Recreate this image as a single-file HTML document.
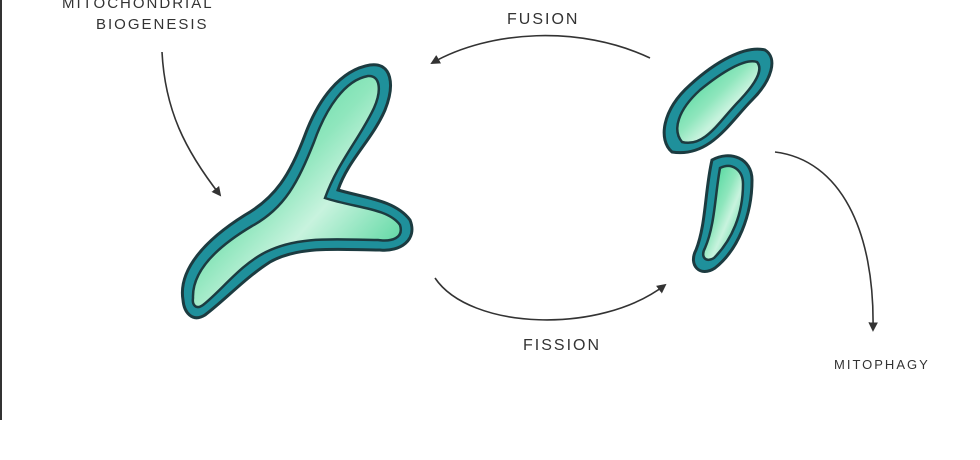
<!DOCTYPE html>
<html><head><style>
html,body{margin:0;padding:0;background:#fff;}
svg{display:block}
text{font-family:"Liberation Sans",sans-serif;fill:#333;letter-spacing:2px}
</style></head><body>
<svg width="980" height="460" viewBox="0 0 980 460" xmlns="http://www.w3.org/2000/svg">
<rect x="0" y="0" width="980" height="460" fill="#fff"/>
<line x1="1" y1="0" x2="1" y2="420" stroke="#333" stroke-width="2"/>
<defs>
<linearGradient id="g" x1="0" y1="0" x2="1" y2="1">
<stop offset="0" stop-color="#2ed08c"/><stop offset="0.45" stop-color="#8fe6bd"/><stop offset="0.6" stop-color="#c8f3de"/><stop offset="1" stop-color="#2acb86"/>
</linearGradient>
<marker id="ah" viewBox="0 0 10 10" refX="8" refY="5" markerWidth="6" markerHeight="6" orient="auto"><path d="M0,0 L10,5 L0,10 z" fill="#333"/></marker>
</defs>
<text x="62" y="8" font-size="15">MITOCHONDRIAL</text>
<text x="96" y="29" font-size="15">BIOGENESIS</text>
<text x="507" y="24" font-size="16">FUSION</text>
<text x="523" y="350" font-size="16">FISSION</text>
<text x="834" y="369" font-size="13">MITOPHAGY</text>
<path d="M162,52 C165,110 185,150 220,195" fill="none" stroke="#333" stroke-width="1.6" marker-end="url(#ah)"/>
<path d="M650,58 C580,25 490,30 432,63" fill="none" stroke="#333" stroke-width="1.6" marker-end="url(#ah)"/>
<path d="M435,278 C470,330 600,335 665,285" fill="none" stroke="#333" stroke-width="1.6" marker-end="url(#ah)"/>
<path d="M775,152 C840,160 875,230 873,330" fill="none" stroke="#333" stroke-width="1.6" marker-end="url(#ah)"/>
<!-- big Y -->
<path d="M183,300 C178,270 205,240 245,215 C275,198 290,175 305,135 C318,100 340,70 370,65 C392,62 395,85 385,110 C372,140 348,160 338,190 C365,198 395,200 410,220 C418,240 400,252 380,250 C340,250 300,245 270,262 C245,278 225,300 205,315 C192,323 184,312 183,300 Z" fill="#1f909b" stroke="#1c3b40" stroke-width="3"/>
<path d="M193,298 C192,272 215,248 252,226 C285,208 298,182 314,142 C326,108 345,80 368,76 C380,75 382,90 374,108 C360,138 338,162 325,198 C355,208 388,208 400,225 C404,238 392,242 378,240 C340,240 300,235 266,252 C240,265 222,290 203,305 C196,310 192,305 193,298 Z" fill="url(#g)" stroke="#1c3b40" stroke-width="2.5"/>
<!-- small top -->
<path d="M672,152 C658,140 662,110 690,85 C715,62 745,45 765,50 C778,58 772,80 752,100 C730,122 710,158 672,152 Z" fill="#1f909b" stroke="#1c3b40" stroke-width="3"/>
<path d="M682,142 C672,130 678,110 700,90 C722,72 745,58 757,62 C764,70 755,84 740,100 C720,120 705,148 682,142 Z" fill="url(#g)" stroke="#1c3b40" stroke-width="2.5"/>
<!-- small bottom -->
<path d="M712,160 C730,150 752,158 752,180 C752,215 738,250 715,268 C700,278 688,265 696,250 C706,225 705,190 712,160 Z" fill="#1f909b" stroke="#1c3b40" stroke-width="3"/>
<path d="M720,168 C732,162 743,170 743,184 C743,214 732,240 714,258 C706,263 700,257 705,248 C715,225 715,195 720,168 Z" fill="url(#g)" stroke="#1c3b40" stroke-width="2.5"/>
</svg>
</body></html>
